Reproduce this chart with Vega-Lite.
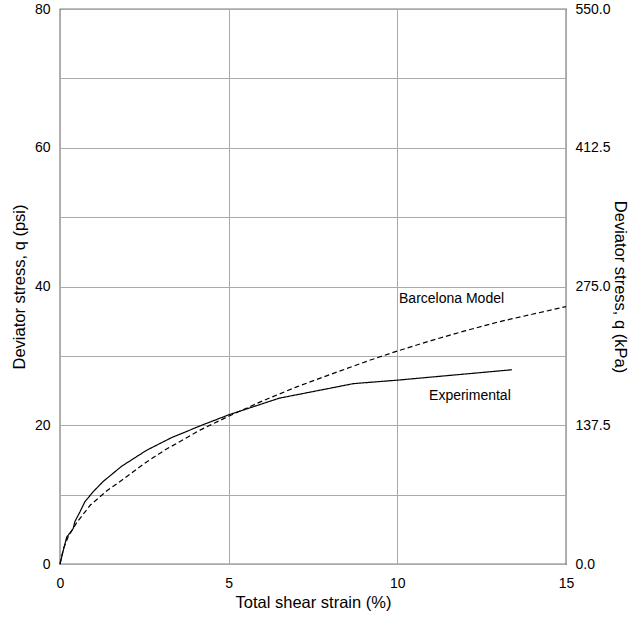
{
  "$schema": "https://vega.github.io/schema/vega-lite/v6.json",
  "width": 506,
  "height": 555,
  "autosize": "none",
  "padding": {"left": 60, "top": 9, "right": 74, "bottom": 54},
  "config": {
    "view": {"stroke": "black", "strokeWidth": 1.2},
    "font": "Liberation Sans",
    "axis": {
      "labelFont": "Liberation Sans",
      "titleFont": "Liberation Sans",
      "labelFontSize": 14,
      "titleFontSize": 16.5,
      "titleFontWeight": "normal",
      "labelColor": "black",
      "titleColor": "black",
      "labelFlush": false,
      "labelOverlap": false,
      "ticks": false,
      "domain": false,
      "gridColor": "#aaaaaa",
      "gridWidth": 1,
      "gridOpacity": 1
    }
  },
  "datasets": {
    "curves": [
      {"series": "Experimental", "strain": 0, "q": 0},
      {"series": "Experimental", "strain": 0.1, "q": 2.0},
      {"series": "Experimental", "strain": 0.2, "q": 3.9},
      {"series": "Experimental", "strain": 0.3, "q": 4.5},
      {"series": "Experimental", "strain": 0.39, "q": 5.1},
      {"series": "Experimental", "strain": 0.44, "q": 6.1},
      {"series": "Experimental", "strain": 0.59, "q": 7.5},
      {"series": "Experimental", "strain": 0.74, "q": 9.0},
      {"series": "Experimental", "strain": 1.0, "q": 10.5},
      {"series": "Experimental", "strain": 1.28, "q": 11.9},
      {"series": "Experimental", "strain": 1.83, "q": 14.1},
      {"series": "Experimental", "strain": 2.57, "q": 16.4},
      {"series": "Experimental", "strain": 3.3, "q": 18.2},
      {"series": "Experimental", "strain": 4.2, "q": 20.0},
      {"series": "Experimental", "strain": 5.0, "q": 21.5},
      {"series": "Experimental", "strain": 6.5, "q": 23.9},
      {"series": "Experimental", "strain": 8.7, "q": 26.0},
      {"series": "Experimental", "strain": 10.0, "q": 26.5},
      {"series": "Experimental", "strain": 13.4, "q": 28.0},
      {"series": "Barcelona Model", "strain": 0, "q": 0},
      {"series": "Barcelona Model", "strain": 0.1, "q": 2.2},
      {"series": "Barcelona Model", "strain": 0.25, "q": 4.0},
      {"series": "Barcelona Model", "strain": 0.5, "q": 6.0},
      {"series": "Barcelona Model", "strain": 0.9, "q": 8.5},
      {"series": "Barcelona Model", "strain": 1.4, "q": 10.6},
      {"series": "Barcelona Model", "strain": 1.9, "q": 12.3},
      {"series": "Barcelona Model", "strain": 2.5, "q": 14.5},
      {"series": "Barcelona Model", "strain": 3.1, "q": 16.4},
      {"series": "Barcelona Model", "strain": 4.15, "q": 19.3},
      {"series": "Barcelona Model", "strain": 5.0, "q": 21.3},
      {"series": "Barcelona Model", "strain": 6.0, "q": 23.5},
      {"series": "Barcelona Model", "strain": 7.0, "q": 25.5},
      {"series": "Barcelona Model", "strain": 8.0, "q": 27.3},
      {"series": "Barcelona Model", "strain": 9.2, "q": 29.4},
      {"series": "Barcelona Model", "strain": 10.0, "q": 30.7},
      {"series": "Barcelona Model", "strain": 11.0, "q": 32.2},
      {"series": "Barcelona Model", "strain": 12.0, "q": 33.6},
      {"series": "Barcelona Model", "strain": 13.0, "q": 34.9},
      {"series": "Barcelona Model", "strain": 14.0, "q": 36.0},
      {"series": "Barcelona Model", "strain": 15.0, "q": 37.1}
    ],
    "labels": [
      {"label": "Barcelona Model", "strain": 10.05, "q": 38.2},
      {"label": "Experimental", "strain": 10.94, "q": 24.2}
    ],
    "kpa": [
      {"kPa": 0},
      {"kPa": 550}
    ]
  },
  "layer": [
    {
      "layer": [
        {
          "data": {"name": "curves"},
          "mark": {"type": "line", "color": "black", "strokeWidth": 1.2},
          "encoding": {
            "x": {
              "field": "strain", "type": "quantitative",
              "scale": {"domain": [0, 15], "nice": false},
              "axis": {"values": [0, 5, 10, 15], "title": "Total shear strain (%)", "labelPadding": 12, "titlePadding": 4}
            },
            "y": {
              "field": "q", "type": "quantitative",
              "scale": {"domain": [0, 80], "nice": false},
              "axis": {"values": [0, 10, 20, 30, 40, 50, 60, 70, 80], "labelExpr": "datum.value % 20 === 0 ? datum.label : ''", "title": "Deviator stress, q (psi)", "labelPadding": 10, "titlePadding": 7}
            },
            "detail": {"field": "series"},
            "strokeDash": {
              "field": "series", "type": "nominal",
              "scale": {"domain": ["Experimental", "Barcelona Model"], "range": [[1, 0], [5, 3]]},
              "legend": null
            }
          }
        },
        {
          "data": {"name": "labels"},
          "mark": {"type": "text", "align": "left", "baseline": "middle", "fontSize": 14, "font": "Liberation Sans", "color": "black"},
          "encoding": {
            "x": {"field": "strain", "type": "quantitative"},
            "y": {"field": "q", "type": "quantitative"},
            "text": {"field": "label"}
          }
        }
      ]
    },
    {
      "data": {"name": "kpa"},
      "mark": {"type": "point", "opacity": 0},
      "encoding": {
        "y": {
          "field": "kPa", "type": "quantitative",
          "scale": {"domain": [0, 550], "nice": false},
          "axis": {"orient": "right", "values": [0, 137.5, 275, 412.5, 550], "format": ".1f", "grid": false, "title": "Deviator stress, q (kPa)", "labelPadding": 9, "titlePadding": 1}
        }
      }
    }
  ],
  "resolve": {"scale": {"y": "independent"}}
}
